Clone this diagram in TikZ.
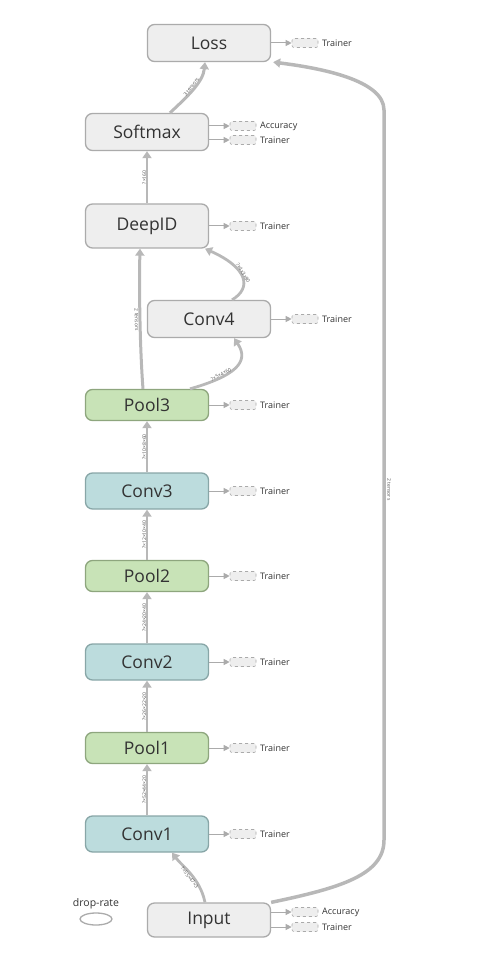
\documentclass[tikz,border=0pt]{standalone}
\usepackage{fontspec}
\setmainfont{Open Sans}
\usetikzlibrary{arrows.meta,shapes.geometric}
\definecolor{opfill}{HTML}{EEEEEE}
\definecolor{opline}{HTML}{ABABAB}
\definecolor{poolfill}{HTML}{C8E3B7}
\definecolor{poolline}{HTML}{8EA67E}
\definecolor{convfill}{HTML}{BCDCDD}
\definecolor{convline}{HTML}{88A6A7}
\definecolor{optext}{HTML}{333333}
\definecolor{edgecol}{HTML}{B8B8B8}
\definecolor{auxline}{HTML}{AAAAAA}
\definecolor{labelcol}{HTML}{555555}

\begin{document}
\begin{tikzpicture}[x=1pt,y=-1pt,
    op/.style={draw=opline, fill=opfill, line width=1.3pt, rounded corners=7pt,
      minimum width=123pt, minimum height=37pt, inner sep=0pt,
      text=optext, font=\fontsize{17.5}{17.5}\selectfont},
    pool/.style={op, draw=poolline, fill=poolfill, minimum height=31pt},
    conv/.style={op, draw=convline, fill=convfill, minimum height=36pt},
    aux/.style={draw=auxline, dashed, fill=opfill, rounded corners=2pt, line width=0.6pt,
      minimum width=26pt, minimum height=9pt, inner sep=0pt},
    auxtext/.style={anchor=west, inner sep=0pt, text=optext, font=\fontsize{9}{9}\selectfont},
    auxflow/.style={draw=opline, line width=1pt, -{Triangle[length=6pt,width=6pt]}},
    flow/.style={draw=edgecol, line width=2.8pt, -{Triangle[length=7pt,width=9pt]}},
    dims/.style={sloped, inner sep=0.5pt, text=labelcol, font=\fontsize{5}{5}\selectfont}]
  \useasboundingbox (0,0) rectangle (479,965);
  % ops
  \node[op] (loss) at (209,43) {Loss};
  \node[op] (softmax) at (147,132) {Softmax};
  \node[op, minimum height=44pt] (deepid) at (147,226) {DeepID};
  \node[op] (conv4) at (209,319) {Conv4};
  \node[pool] (pool3) at (147,405) {Pool3};
  \node[conv] (conv3) at (147,491) {Conv3};
  \node[pool] (pool2) at (147,576) {Pool2};
  \node[conv] (conv2) at (147,662) {Conv2};
  \node[pool] (pool1) at (147,748) {Pool1};
  \node[conv] (conv1) at (147,834) {Conv1};
  \node[op, minimum height=34pt] (input) at (209,920) {Input};
  % auxiliary outputs
  \node[aux] (lossaux) at (305,43) {};
  \node[auxtext] at (322,43) {Trainer};
  \node[aux] (smacc) at (243,126) {};
  \node[auxtext] at (260,126) {Accuracy};
  \node[aux] (smtrain) at (243,140) {};
  \node[auxtext] at (260,140) {Trainer};
  \node[aux] (deepidaux) at (243,226) {};
  \node[auxtext] at (260,226) {Trainer};
  \node[aux] (conv4aux) at (305,319) {};
  \node[auxtext] at (322,319) {Trainer};
  \node[aux] (pool3aux) at (243,405) {};
  \node[auxtext] at (260,405) {Trainer};
  \node[aux] (conv3aux) at (243,491) {};
  \node[auxtext] at (260,491) {Trainer};
  \node[aux] (pool2aux) at (243,576) {};
  \node[auxtext] at (260,576) {Trainer};
  \node[aux] (conv2aux) at (243,662) {};
  \node[auxtext] at (260,662) {Trainer};
  \node[aux] (pool1aux) at (243,748) {};
  \node[auxtext] at (260,748) {Trainer};
  \node[aux] (conv1aux) at (243,834) {};
  \node[auxtext] at (260,834) {Trainer};
  \node[aux] (inacc) at (305,912) {};
  \node[auxtext] at (322,912) {Accuracy};
  \node[aux] (intrain) at (305,927) {};
  \node[auxtext] at (322,927) {Trainer};
  \draw[auxflow] (loss.east) -- (lossaux);
  \draw[auxflow] (softmax.east |- smacc) -- (smacc);
  \draw[auxflow] (softmax.east |- smtrain) -- (smtrain);
  \draw[auxflow] (deepid.east) -- (deepidaux);
  \draw[auxflow] (conv4.east) -- (conv4aux);
  \draw[auxflow] (pool3.east) -- (pool3aux);
  \draw[auxflow] (conv3.east) -- (conv3aux);
  \draw[auxflow] (pool2.east) -- (pool2aux);
  \draw[auxflow] (conv2.east) -- (conv2aux);
  \draw[auxflow] (pool1.east) -- (pool1aux);
  \draw[auxflow] (conv1.east) -- (conv1aux);
  \draw[auxflow] (input.east |- inacc) -- (inacc);
  \draw[auxflow] (input.east |- intrain) -- (intrain);
  % data flow
  \draw[flow] ([xshift=-4pt]input.north) .. controls (200,878) and (182,866) .. ([xshift=25pt]conv1.south)
    node[dims, pos=0.45, below=-0.5pt] {?×55×47×3};
  \draw[flow] (conv1) -- (pool1) node[dims, midway, above=-1pt] {?×52×44×20};
  \draw[flow] (pool1) -- (conv2) node[dims, midway, above=-1pt] {?×26×22×20};
  \draw[flow] (conv2) -- (pool2) node[dims, midway, above=-1pt] {?×24×20×40};
  \draw[flow] (pool2) -- (conv3) node[dims, midway, above=-1pt] {?×12×10×40};
  \draw[flow] (conv3) -- (pool3) node[dims, midway, above=-1pt] {?×10×8×60};
  \draw[flow, line width=3pt] ([xshift=-4pt]pool3.north) .. controls (140,350) and (139,290) .. ([xshift=-7pt]deepid.south)
    node[dims, midway, below=-0.5pt] {2 tensors};
  \draw[flow] ([xshift=43pt]pool3.north) .. controls (235,376) and (250,362) .. ([xshift=25pt]conv4.south)
    node[dims, pos=0.3, above=-1pt] {?×5×4×60};
  \draw[flow] ([xshift=23pt]conv4.north) .. controls (252,288) and (248,268) .. ([xshift=58pt]deepid.south)
    node[dims, pos=0.55, above=-1pt] {?×4×3×80};
  \draw[flow] (deepid) -- (softmax) node[dims, midway, above=-1pt] {?×160};
  \draw[flow, line width=3pt] ([xshift=23pt]softmax.north) .. controls (188,96) and (203,82) .. ([xshift=-4pt]loss.south)
    node[dims, midway, above=-1pt] {3 tensors};
  \coordinate (riselow) at (384,840);
  \coordinate (risehigh) at (384,110);
  \draw[flow, line width=3.5pt] (input.north east) .. controls (340,888) and (384,875) .. (riselow)
    -- (risehigh) node[dims, pos=0.48, above=-1pt, rotate=180] {2 tensors}
    .. controls (384,80) and (320,68) .. ([xshift=2pt]loss.south east);
  % legend
  \node[text=optext, font=\fontsize{10.5}{10.5}\selectfont] (droptext) at (96,904) {drop-rate};
  \node[draw=opline, line width=1.3pt, ellipse, minimum width=32pt, minimum height=12pt, inner sep=0pt] (dropmark) at (96,919) {};
\end{tikzpicture}
\end{document}
